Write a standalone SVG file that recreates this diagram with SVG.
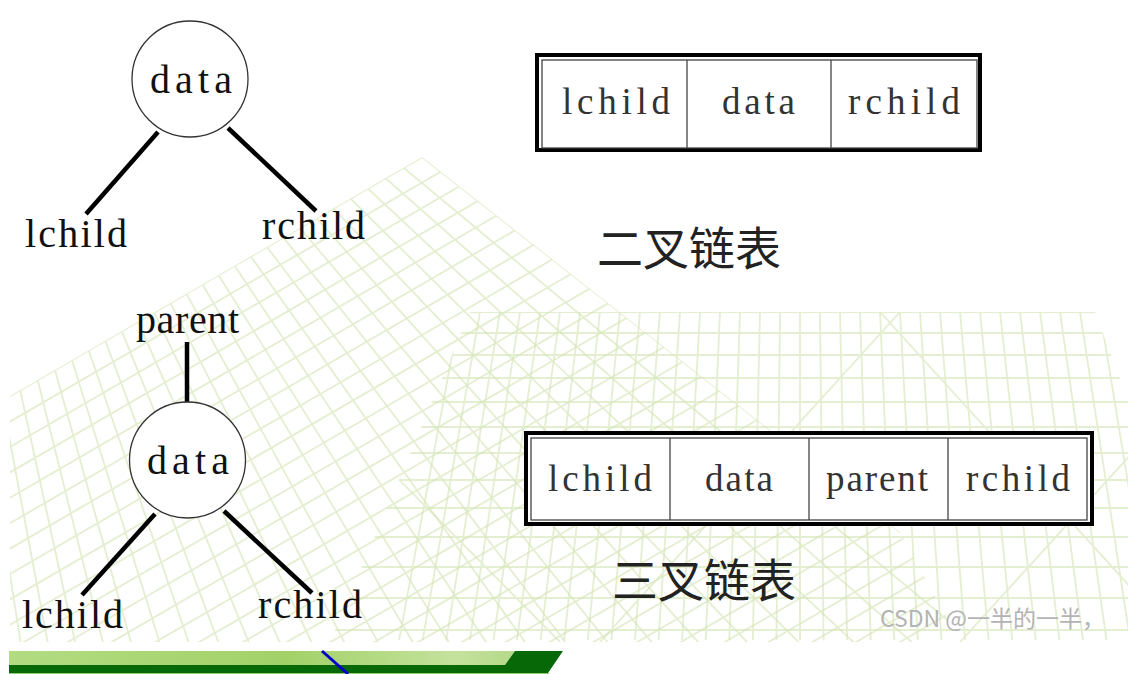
<svg xmlns="http://www.w3.org/2000/svg" xmlns:xlink="http://www.w3.org/1999/xlink" width="1135" height="674" viewBox="0 0 1135 674">
<style>
.grid{fill:none;stroke:#d3e4b2;stroke-width:1.8;opacity:0.6}
.edge{stroke:#000;stroke-width:4.5;fill:none}
.circ{fill:#fff;stroke:#333;stroke-width:1.3}
.lbl{font-family:"Liberation Serif",serif;fill:#111;font-size:40px}
.cell{font-family:"Liberation Serif",serif;fill:#333;font-size:37px;text-anchor:start}
.title{font-family:"Noto Sans CJK SC",sans-serif;font-size:46px;fill:#222}
.wm{font-family:"Noto Sans CJK SC",sans-serif;font-size:23px;fill:#b3b3b3}
.outer{fill:#fff;stroke:#000;stroke-width:4}
.inner{fill:none;stroke:#444;stroke-width:1.3}
.div{stroke:#444;stroke-width:1.3}
</style>
<defs>
<clipPath id="p1"><path d="M422,157 L613,307 L900,532 L960,642 L10,642 L10,396 Z"/></clipPath>
<clipPath id="p2"><path d="M470,312 L1095,312 L1128,400 L1128,642 L330,642 Z"/></clipPath>
<line id="vf" x1="-124" y1="-271" x2="1900" y2="-271"/>
<line id="uf" x1="-600" y1="750" x2="1500" y2="-468"/>
<linearGradient id="barg" x1="0" y1="0" x2="1" y2="0">
<stop offset="0" stop-color="#b3dc82"/>
<stop offset="0.55" stop-color="#a2d168"/>
<stop offset="0.88" stop-color="#c4e29c"/>
<stop offset="1" stop-color="#b5d98a"/>
</linearGradient>
</defs>
<rect width="1135" height="674" fill="#fff"/>
<g id="background">
<g clip-path="url(#p1)" class="grid">
<use href="#vf" transform="rotate(38.1 -124 -271)"/>
<use href="#vf" transform="rotate(39.75 -124 -271)"/>
<use href="#vf" transform="rotate(41.4 -124 -271)"/>
<use href="#vf" transform="rotate(43.05 -124 -271)"/>
<use href="#vf" transform="rotate(44.7 -124 -271)"/>
<use href="#vf" transform="rotate(46.35 -124 -271)"/>
<use href="#vf" transform="rotate(48 -124 -271)"/>
<use href="#vf" transform="rotate(49.65 -124 -271)"/>
<use href="#vf" transform="rotate(51.3 -124 -271)"/>
<use href="#vf" transform="rotate(52.95 -124 -271)"/>
<use href="#vf" transform="rotate(54.6 -124 -271)"/>
<use href="#vf" transform="rotate(56.25 -124 -271)"/>
<use href="#vf" transform="rotate(57.9 -124 -271)"/>
<use href="#vf" transform="rotate(59.55 -124 -271)"/>
<use href="#vf" transform="rotate(61.2 -124 -271)"/>
<use href="#vf" transform="rotate(62.85 -124 -271)"/>
<use href="#vf" transform="rotate(64.5 -124 -271)"/>
<use href="#vf" transform="rotate(66.15 -124 -271)"/>
<use href="#vf" transform="rotate(67.8 -124 -271)"/>
<use href="#vf" transform="rotate(69.45 -124 -271)"/>
<use href="#vf" transform="rotate(71.1 -124 -271)"/>
<use href="#vf" transform="rotate(72.75 -124 -271)"/>
<use href="#vf" transform="rotate(74.4 -124 -271)"/>
<use href="#vf" transform="rotate(76.05 -124 -271)"/>
<use href="#vf" transform="rotate(77.7 -124 -271)"/>
<use href="#vf" transform="rotate(79.35 -124 -271)"/>
<use href="#vf" transform="rotate(81 -124 -271)"/>
<use href="#vf" transform="rotate(82.65 -124 -271)"/>
<use href="#uf"/>
<use href="#uf" transform="translate(0 25.4)"/>
<use href="#uf" transform="translate(0 50.8)"/>
<use href="#uf" transform="translate(0 76.2)"/>
<use href="#uf" transform="translate(0 101.6)"/>
<use href="#uf" transform="translate(0 127)"/>
<use href="#uf" transform="translate(0 152.4)"/>
<use href="#uf" transform="translate(0 177.8)"/>
<use href="#uf" transform="translate(0 203.2)"/>
<use href="#uf" transform="translate(0 228.6)"/>
<use href="#uf" transform="translate(0 254)"/>
<use href="#uf" transform="translate(0 279.4)"/>
<use href="#uf" transform="translate(0 304.8)"/>
<use href="#uf" transform="translate(0 330.2)"/>
<use href="#uf" transform="translate(0 355.6)"/>
<use href="#uf" transform="translate(0 381)"/>
<use href="#uf" transform="translate(0 406.4)"/>
<use href="#uf" transform="translate(0 431.8)"/>
<use href="#uf" transform="translate(0 457.2)"/>
<use href="#uf" transform="translate(0 482.6)"/>
<use href="#uf" transform="translate(0 508)"/>
<use href="#uf" transform="translate(0 533.4)"/>
<use href="#uf" transform="translate(0 558.8)"/>
<use href="#uf" transform="translate(0 584.2)"/>
<use href="#uf" transform="translate(0 609.6)"/>
<use href="#uf" transform="translate(0 635)"/>
<use href="#uf" transform="translate(0 660.4)"/>
<use href="#uf" transform="translate(0 685.8)"/>
<use href="#uf" transform="translate(0 711.2)"/>
<use href="#uf" transform="translate(0 736.6)"/>
<use href="#uf" transform="translate(0 762)"/>
</g>
<g clip-path="url(#p2)" class="grid">
<path d="M300,312H1135 M300,333H1135 M300,355H1135 M300,378H1135 M300,402H1135 M300,427H1135 M300,453H1135 M300,480H1135 M300,508H1135 M300,537H1135 M300,567H1135 M300,598H1135 M300,630H1135"/>
<path d="M460,312L399.1,640 M480,312L422.7,640 M500,312L446.3,640 M520,312L469.9,640 M540,312L493.5,640 M560,312L517,640 M580,312L540.6,640 M600,312L564.2,640 M620,312L587.8,640 M640,312L611.4,640 M660,312L634.9,640 M680,312L658.5,640 M700,312L682.1,640 M720,312L705.7,640 M740,312L729.3,640 M760,312L752.8,640 M780,312L776.4,640 M800,312L800,640 M820,312L823.6,640 M840,312L847.2,640 M860,312L870.7,640 M880,312L894.3,640 M900,312L917.9,640 M920,312L941.5,640 M940,312L965.1,640 M960,312L988.6,640 M980,312L1012.2,640 M1000,312L1035.8,640 M1020,312L1059.4,640 M1040,312L1083,640 M1060,312L1106.5,640 M1080,312L1130.1,640 M1100,312L1153.7,640"/>
<path d="M880,312L1135,592 M340,420L560,642 M900,312L600,642 M1135,450L960,642"/>
</g>
</g>
<g id="connectors">
<line class="edge" x1="158" y1="132" x2="86" y2="214"/>
<line class="edge" x1="228" y1="128" x2="316" y2="211"/>
<line class="edge" x1="187" y1="342" x2="187" y2="403"/>
<line class="edge" x1="155" y1="514" x2="82" y2="595"/>
<line class="edge" x1="224" y1="511" x2="312" y2="593"/>
</g>
<g id="tree1-data">
<circle class="circ" cx="190" cy="79" r="58"/>
<text class="lbl" x="150" y="93" font-size="44" textLength="82">data</text>
</g>
<g id="tree1-lchild"><text class="lbl" x="25" y="247" textLength="102">lchild</text></g>
<g id="tree1-rchild"><text class="lbl" x="262" y="239" textLength="103">rchild</text></g>
<g id="tree2-parent"><text class="lbl" x="136" y="333" textLength="103">parent</text></g>
<g id="tree2-data">
<circle class="circ" cx="187.5" cy="460" r="58"/>
<text class="lbl" x="147" y="474" font-size="44" textLength="82">data</text>
</g>
<g id="tree2-lchild"><text class="lbl" x="22" y="628" textLength="101">lchild</text></g>
<g id="tree2-rchild"><text class="lbl" x="258" y="618" textLength="104">rchild</text></g>
<g id="binary-node">
<rect class="outer" x="537" y="55" width="443" height="95"/>
<rect class="inner" x="542" y="60" width="435" height="88"/>
<line class="div" x1="687" y1="60" x2="687" y2="148"/>
<line class="div" x1="831" y1="60" x2="831" y2="148"/>
<text class="cell" x="562" y="114" textLength="108">lchild</text>
<text class="cell" x="722" y="114" textLength="73">data</text>
<text class="cell" x="848" y="114" textLength="112">rchild</text>
</g>
<g id="binary-title"><text class="title" x="597" y="265">二叉链表</text></g>
<g id="trinary-node">
<rect class="outer" x="526" y="433" width="566" height="91"/>
<rect class="inner" x="531" y="438" width="556" height="82"/>
<line class="div" x1="670" y1="438" x2="670" y2="520"/>
<line class="div" x1="809" y1="438" x2="809" y2="520"/>
<line class="div" x1="948" y1="438" x2="948" y2="520"/>
<text class="cell" x="548" y="491" textLength="104">lchild</text>
<text class="cell" x="705" y="491" textLength="68">data</text>
<text class="cell" x="826" y="491" textLength="102">parent</text>
<text class="cell" x="966" y="491" textLength="104">rchild</text>
</g>
<g id="trinary-title"><text class="title" x="612" y="597">三叉链表</text></g>
<g id="footer">
<path d="M9,651 L515,651 L505,665 L9,665 Z" fill="url(#barg)"/>
<path d="M515,651 L563,651 L548,673 L9,673 L9,665 L505,665 Z" fill="#066806"/>
<rect x="9" y="673" width="540" height="1" fill="#93cc6c"/>
<line x1="322" y1="651" x2="348" y2="674" stroke="#0000cc" stroke-width="3"/>
</g>
<g id="watermark"><text class="wm" x="880" y="627">CSDN @一半的一半，</text></g>
</svg>
